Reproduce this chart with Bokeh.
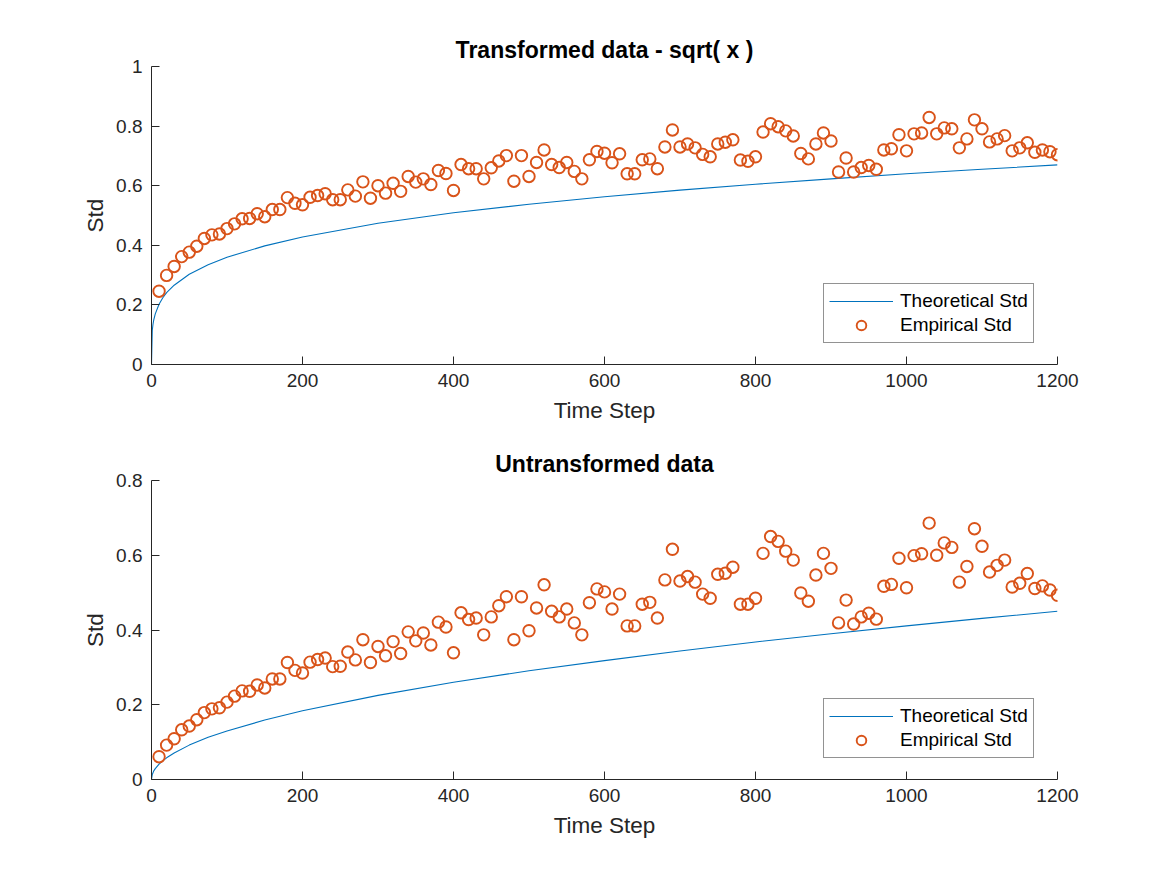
from bokeh.plotting import figure
from bokeh.layouts import column
from bokeh.models import Range1d, FixedTicker, NumeralTickFormatter, Legend, LegendItem
from bokeh.embed import file_html
from bokeh.resources import INLINE

# time steps at which the empirical std was sampled
steps = list(range(10, 1201, 10))

# empirical std of the sqrt-transformed data
emp_sqrt = [
    0.246, 0.299, 0.329, 0.362, 0.377, 0.397, 0.423, 0.435, 0.438, 0.456,
    0.472, 0.489, 0.490, 0.506, 0.496, 0.520, 0.520, 0.560, 0.541, 0.536,
    0.561, 0.567, 0.573, 0.553, 0.553, 0.586, 0.565, 0.613, 0.558, 0.600,
    0.575, 0.608, 0.581, 0.631, 0.612, 0.623, 0.604, 0.651, 0.641, 0.584,
    0.671, 0.657, 0.657, 0.623, 0.660, 0.683, 0.701, 0.615, 0.701, 0.631,
    0.678, 0.720, 0.671, 0.661, 0.678, 0.648, 0.623, 0.687, 0.715, 0.709,
    0.677, 0.707, 0.640, 0.640, 0.687, 0.690, 0.657, 0.730, 0.787, 0.730,
    0.740, 0.727, 0.705, 0.697, 0.740, 0.746, 0.754, 0.686, 0.682, 0.697,
    0.780, 0.808, 0.798, 0.784, 0.767, 0.708, 0.690, 0.740, 0.777, 0.750,
    0.646, 0.693, 0.646, 0.661, 0.668, 0.655, 0.720, 0.724, 0.771, 0.717,
    0.774, 0.777, 0.829, 0.774, 0.794, 0.791, 0.727, 0.757, 0.821, 0.791,
    0.747, 0.757, 0.768, 0.717, 0.727, 0.744, 0.712, 0.720, 0.714, 0.704,
]

# empirical std of the raw data
emp_raw = [
    0.061, 0.092, 0.109, 0.133, 0.143, 0.160, 0.179, 0.189, 0.192, 0.207,
    0.223, 0.237, 0.236, 0.253, 0.245, 0.269, 0.269, 0.313, 0.292, 0.285,
    0.314, 0.321, 0.325, 0.302, 0.303, 0.341, 0.320, 0.374, 0.313, 0.356,
    0.331, 0.369, 0.337, 0.395, 0.371, 0.392, 0.360, 0.421, 0.408, 0.339,
    0.446, 0.428, 0.432, 0.387, 0.435, 0.465, 0.489, 0.374, 0.489, 0.398,
    0.459, 0.521, 0.450, 0.435, 0.456, 0.419, 0.387, 0.473, 0.510, 0.502,
    0.456, 0.496, 0.411, 0.411, 0.469, 0.474, 0.432, 0.534, 0.616, 0.531,
    0.543, 0.528, 0.496, 0.485, 0.549, 0.552, 0.568, 0.469, 0.469, 0.485,
    0.605, 0.650, 0.637, 0.611, 0.587, 0.499, 0.477, 0.547, 0.605, 0.565,
    0.419, 0.480, 0.416, 0.435, 0.445, 0.429, 0.517, 0.522, 0.592, 0.513,
    0.599, 0.604, 0.686, 0.600, 0.633, 0.621, 0.528, 0.570, 0.671, 0.624,
    0.555, 0.573, 0.587, 0.515, 0.525, 0.551, 0.511, 0.518, 0.507, 0.493,
]

# theoretical std curves
theory_t = [0, 1, 2, 3, 5, 10, 15, 20, 30, 50, 75, 100, 150, 200, 300, 400,
            500, 600, 700, 800, 900, 1000, 1100, 1200]
theory_sqrt = [0.0, 0.114, 0.135, 0.150, 0.170, 0.202, 0.224, 0.241, 0.266,
               0.303, 0.335, 0.360, 0.398, 0.428, 0.474, 0.509, 0.538, 0.563,
               0.585, 0.605, 0.623, 0.640, 0.655, 0.670]
theory_raw = [0.0, 0.013, 0.018, 0.023, 0.029, 0.041, 0.050, 0.058, 0.071,
              0.092, 0.113, 0.130, 0.159, 0.184, 0.225, 0.260, 0.291, 0.318,
              0.344, 0.368, 0.390, 0.411, 0.431, 0.450]

x_ticks = [0, 200, 400, 600, 800, 1000, 1200]

FONT = "Liberation Sans"
AXIS_COLOR = "#262626"
BLUE = "#0072BD"
ORANGE = "#D95319"


def panel(title, emp, theory, ymax, yticks, height, top, bottom):
    p = figure(width=1167, height=height, output_backend="svg",
               toolbar_location=None,
               x_range=Range1d(0, 1200), y_range=Range1d(0, ymax),
               min_border_left=151, min_border_right=110,
               min_border_top=top, min_border_bottom=bottom)
    p.outline_line_color = None
    p.grid.visible = False
    p.background_fill_color = "white"
    p.border_fill_color = "white"

    p.title.text = title
    p.title.align = "center"
    p.title.text_font = FONT
    p.title.text_font_size = "23px"
    p.title.text_font_style = "bold"
    p.title.text_color = "black"
    p.title.standoff = 8

    for ax in (p.xaxis[0], p.yaxis[0]):
        ax.axis_line_color = AXIS_COLOR
        ax.major_tick_line_color = AXIS_COLOR
        ax.major_tick_in = 8
        ax.major_tick_out = 0
        ax.minor_tick_line_color = None
        ax.major_label_text_font = FONT
        ax.major_label_text_font_size = "19px"
        ax.major_label_text_color = AXIS_COLOR
        ax.axis_label_text_font = FONT
        ax.axis_label_text_font_size = "22.5px"
        ax.axis_label_text_font_style = "normal"
        ax.axis_label_text_color = AXIS_COLOR

    p.xaxis.ticker = FixedTicker(ticks=x_ticks)
    p.yaxis.ticker = FixedTicker(ticks=yticks)
    p.yaxis.formatter = NumeralTickFormatter(format="0.[0]")
    p.xaxis.axis_label = "Time Step"
    p.yaxis.axis_label = "Std"
    p.xaxis.major_label_standoff = 9
    p.yaxis.major_label_standoff = 9
    p.xaxis.axis_label_standoff = 8
    p.yaxis.axis_label_standoff = 5

    line_r = p.line(theory_t, theory, line_color=BLUE, line_width=1.1)
    pts_r = p.scatter(steps, emp, marker="circle", size=11.5,
                      fill_color=None, line_color=ORANGE, line_width=1.9)

    legend = Legend(items=[LegendItem(label="Theoretical Std", renderers=[line_r]),
                           LegendItem(label="Empirical Std", renderers=[pts_r])],
                    location=(672, 21))
    legend.label_text_font = FONT
    legend.label_text_font_size = "19px"
    legend.label_text_color = "black"
    legend.border_line_color = AXIS_COLOR
    legend.border_line_width = 1
    legend.background_fill_alpha = 1.0
    legend.glyph_width = 64
    legend.glyph_height = 24
    legend.label_height = 20
    legend.label_standoff = 7
    legend.padding = 5
    legend.spacing = 0
    legend.margin = 0
    p.add_layout(legend)
    return p


top_panel = panel("Transformed data - sqrt( x )", emp_sqrt, theory_sqrt, 1.0,
                  [0, 0.2, 0.4, 0.6, 0.8, 1.0], 437, 66, 73)
bottom_panel = panel("Untransformed data", emp_raw, theory_raw, 0.8,
                     [0, 0.2, 0.4, 0.6, 0.8], 438, 43, 96)

layout = column(top_panel, bottom_panel, spacing=0)
open("out.html", "w").write(file_html(layout, INLINE))
